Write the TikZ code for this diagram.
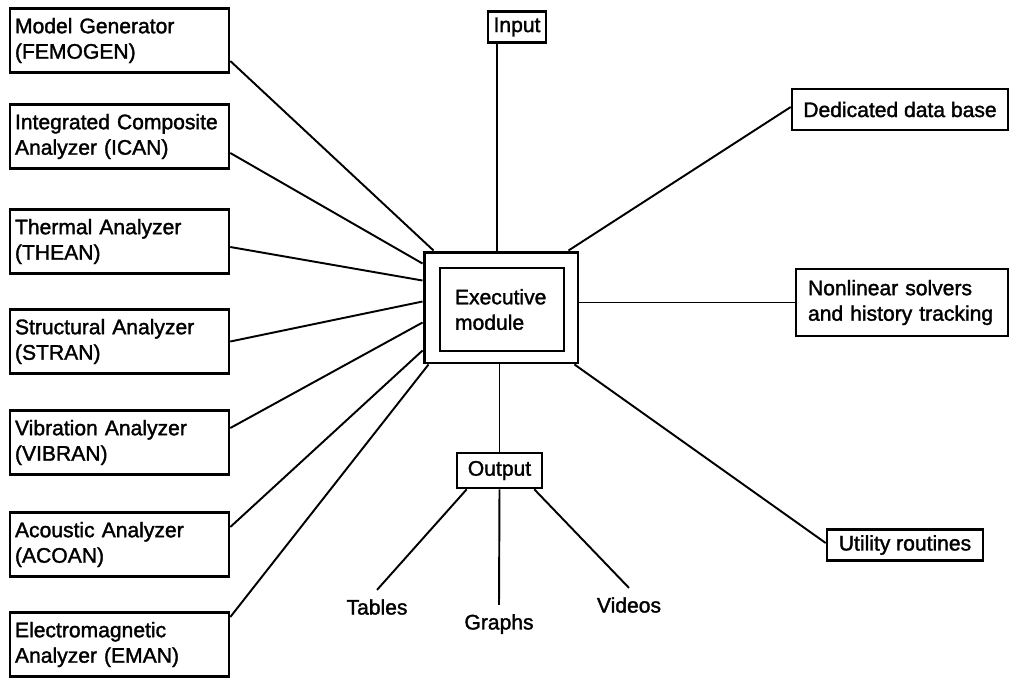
\documentclass[tikz,border=0pt]{standalone}
\usepackage{fontspec}
\setmainfont{Liberation Sans}
\newfontfamily\scanfont{Liberation Sans}[FakeBold=1.6]
\tikzset{
  modbox/.style={draw, line width=1.5pt, align=left, inner xsep=0.1cm,
    font=\scanfont\fontsize{12}{14.5}\selectfont},
  leftbox/.style={modbox, text width=4.18cm, minimum height=1.28cm},
  outlabel/.style={inner sep=0.18cm, font=\scanfont\fontsize{12}{14.5}\selectfont},
  link/.style={line width=1.1pt},
}
\begin{document}
\begin{tikzpicture}[x=0.02cm, y=-0.02cm]

    \useasboundingbox (0,0) rectangle (1010,677);

    % Executive module (double box)
    \node[draw, line width=1.7pt, minimum width=3.08cm, minimum height=2.22cm] (exec) at (501,307.5) {};
    \node[modbox, inner xsep=0.3cm, text width=1.88cm, minimum height=1.66cm] (execin) at (502,309.5) {Executive\\module};

    % Analyzers on the left
    \node[leftbox] (femogen) at (119.5,40.5) {Model Generator\\(FEMOGEN)};
    \node[leftbox] (ican) at (119.5,136.5) {Integrated Composite\\Analyzer (ICAN)};
    \node[leftbox] (thean) at (119.5,241.5) {Thermal Analyzer\\(THEAN)};
    \node[leftbox] (stran) at (119.5,341.5) {Structural Analyzer\\(STRAN)};
    \node[leftbox] (vibran) at (119.5,442.5) {Vibration Analyzer\\(VIBRAN)};
    \node[leftbox] (acoan) at (119.5,544.5) {Acoustic Analyzer\\(ACOAN)};
    \node[leftbox] (eman) at (119.5,644.5) {Electromagnetic\\Analyzer (EMAN)};

    % Input, data base, solvers, utilities
    \node[modbox, minimum width=1.16cm, minimum height=0.6cm, align=center] (input) at (517,27) {Input};
    \node[modbox, minimum width=4.32cm, minimum height=0.82cm, align=center] (dbase) at (900,109.5) {Dedicated data base};
    \node[modbox, inner xsep=0.24cm, text width=3.76cm, minimum height=1.34cm] (nonlin) at (902,302.5) {Nonlinear solvers\\and history tracking};
    \node[modbox, minimum width=3.12cm, minimum height=0.6cm, align=center] (util) at (905,545) {Utility routines};

    % Output and its products
    \node[modbox, minimum width=1.7cm, minimum height=0.7cm, align=center] (output) at (499.5,470.5) {Output};
    \node[outlabel] (tables) at (377,607) {Tables};
    \node[outlabel] (graphs) at (499,624) {Graphs};
    \node[outlabel] (videos) at (629,605) {Videos};

    % Connectors to the executive module
    \draw[link] ([yshift=-0.41cm]femogen.east) -- ([xshift=0.22cm]exec.north west);
    \draw[link] ([yshift=-0.33cm]ican.east) -- ([yshift=-0.26cm]exec.north west);
    \draw[link] ([yshift=-0.11cm]thean.east) -- ([yshift=-0.6cm]exec.north west);
    \draw[link] (stran.east) -- ([yshift=-1.02cm]exec.north west);
    \draw[link] ([yshift=0.29cm]vibran.east) -- ([yshift=-1.44cm]exec.north west);
    \draw[link] ([yshift=0.35cm]acoan.east) -- ([yshift=-2.0cm]exec.north west);
    \draw[link] ([yshift=0.55cm]eman.east) -- ([xshift=0.12cm]exec.south west);

    \draw[link] ([xshift=-0.4cm]input.south) -- ([xshift=-0.4cm]input.south |- exec.north);
    \draw[link] ([yshift=0.05cm]dbase.west) -- ([xshift=-0.22cm]exec.north east);
    \draw[link] (exec.east |- nonlin.west) -- (nonlin.west);
    \draw[link] ([xshift=-0.1cm]exec.south east) -- ([yshift=0.04cm]util.west);
    \draw[link] (output.north |- exec.south) -- (output.north);

    % Output branches
    \draw[link] ([xshift=0.22cm]output.south west) -- (tables.north);
    \draw[link] (output.south) -- (graphs.north);
    \draw[link] ([xshift=-0.18cm]output.south east) -- (videos.north);

\end{tikzpicture}
\end{document}
